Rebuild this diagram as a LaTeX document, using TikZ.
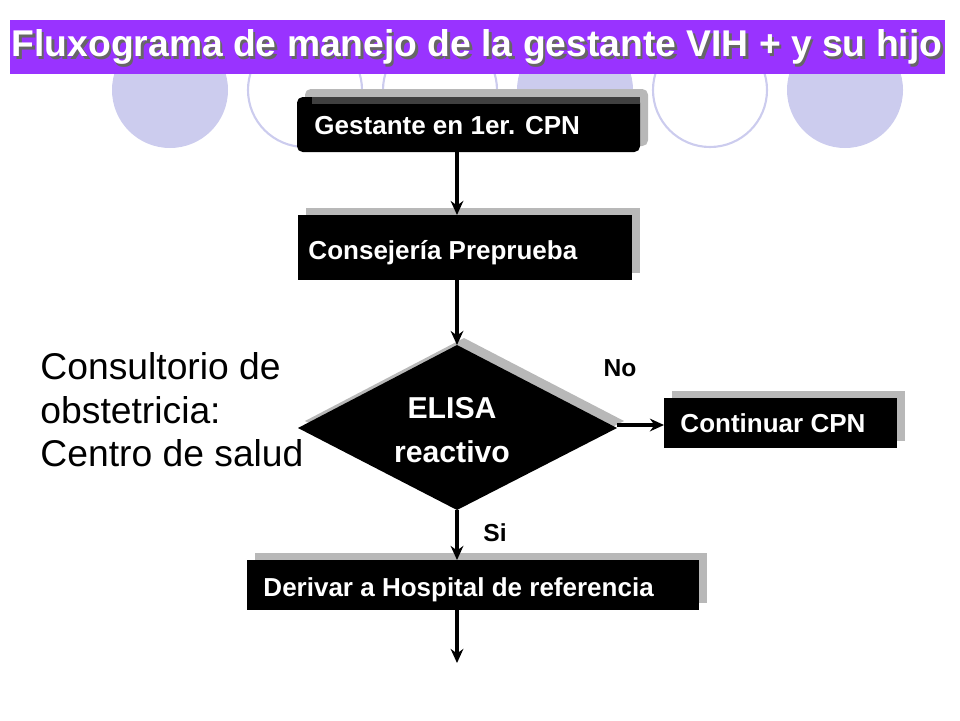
\documentclass[tikz,border=0pt]{standalone}
\usepackage{fontspec}
\setmainfont{Liberation Sans}
\usetikzlibrary{shapes.geometric, arrows.meta}
\definecolor{titlepurple}{HTML}{9933FF}
\definecolor{circlefill}{HTML}{CCCCEE}
\definecolor{shadowgray}{HTML}{B8B8B8}
\tikzset{
  boxtext/.style={text=white, font=\fontsize{37}{40}\selectfont\bfseries},
  flowarrow/.style={line width=5pt, -{Stealth[length=20pt,width=18pt]}},
  lbl/.style={font=\fontsize{35}{38}\selectfont\bfseries}
}
\begin{document}
\begin{tikzpicture}[x=0.05cm, y=-0.05cm]
\useasboundingbox (0,0) rectangle (960,720);
% background circles
\foreach \cx/\f in {170/1,305/0,440/0,575/1,710/0,845/1}
  {\ifnum\f=1
     \fill[circlefill] (\cx,90) circle (58);
   \else
     \draw[circlefill, line width=3pt] (\cx,90) circle (57);
   \fi}
% title
\fill[titlepurple] (10,20) rectangle (945,74);
\node[text=black!60, font=\fontsize{53}{56}\selectfont\bfseries] at (479.5,49.5) {Fluxograma de manejo de la gestante VIH + y su hijo};
\node (title) [text=white, font=\fontsize{53}{56}\selectfont\bfseries] at (477,47) {Fluxograma de manejo de la gestante VIH + y su hijo};
% boxes
\fill[shadowgray, rounded corners=8pt] (305,89) rectangle (648,146);
\fill[black, rounded corners=8pt] (297,97) rectangle (640,152);
\fill[black!75] (312,97) rectangle (640,104);
\node (gest) [boxtext, anchor=west] at (312,126) {Gestante en 1er. CPN};
\coordinate (gestB) at (457,152);
\fill[shadowgray] (306,208) rectangle (640,273);
\fill[black] (298,215) rectangle (632,280);
\node (cons) [boxtext, anchor=west] at (306,253) {Consejería Preprueba};
\coordinate (consT) at (457,215);
\coordinate (consB) at (457,280);
\fill[shadowgray] (305,421) -- (464,338) -- (624,421) -- (464,503) -- cycle;
\fill[black] (298,428) -- (457,345) -- (617,428) -- (457,510) -- cycle;
\node (elisa) [boxtext, align=center, font=\fontsize{43}{62}\selectfont\bfseries] at (452,430) {ELISA\\reactivo};
\coordinate (elisaT) at (457,345);
\coordinate (elisaB) at (457,510);
\coordinate (elisaR) at (617,425);
\fill[shadowgray] (672,391) rectangle (905,441);
\fill[black] (664,398) rectangle (897,448);
\node (cont) [boxtext, anchor=west] at (678,423) {Continuar CPN};
\coordinate (contL) at (664,425);
\fill[shadowgray] (255,553) rectangle (707,603);
\fill[black] (247,560) rectangle (699,610);
\node (deriv) [boxtext, anchor=west] at (261,590) {Derivar a Hospital de referencia};
\coordinate (derivT) at (457,560);
\coordinate (derivB) at (457,610);
\coordinate (endpt) at (457,663);
% connectors
\draw[flowarrow] (gestB) -- (consT);
\draw[flowarrow] (consB) -- (elisaT);
\draw[flowarrow] (elisaB) -- (derivT);
\draw[flowarrow] (elisaR) -- (contL);
\draw[flowarrow] (derivB) -- (endpt);
\node (no) [lbl] at (620,368) {No};
\node (si) [lbl] at (495,533) {Si};
\node (place) [anchor=north west, align=left, font=\fontsize{53}{62}\selectfont] at (38,350) {Consultorio de\\obstetricia:\\Centro de salud};
\end{tikzpicture}
\end{document}
